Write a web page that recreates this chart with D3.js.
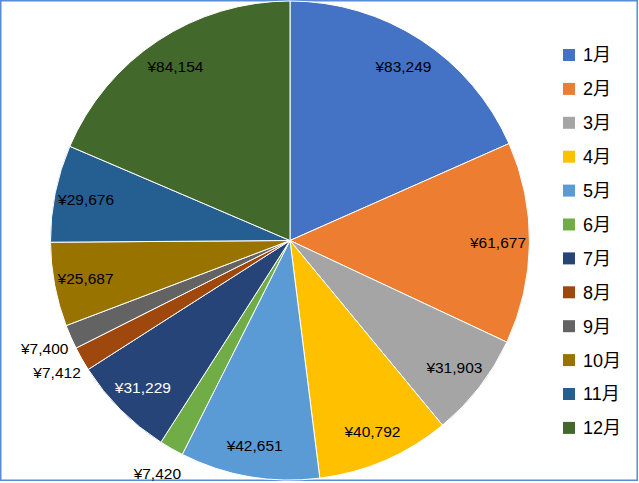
<!DOCTYPE html>
<html>
<head>
<meta charset="utf-8">
<script src="https://cdn.jsdelivr.net/npm/d3@7"></script>
<style>
  html, body { margin: 0; padding: 0; background: #fff; }
  svg { display: block; }
</style>
</head>
<body>
<script>
// data
const months = ["1月", "2月", "3月", "4月", "5月", "6月", "7月", "8月", "9月", "10月", "11月", "12月"];
const sales = [83249, 61677, 31903, 40792, 42651, 7420, 31229, 7412, 7400, 25687, 29676, 84154];
const sliceColors = ["#4472C4", "#ED7D31", "#A5A5A5", "#FFC000", "#5B9BD5", "#70AD47",
                     "#264478", "#9E480E", "#636363", "#997300", "#255E91", "#43682B"];

// general dimensions
const width = 639, height = 483,
  cx = 290, cy = 240.5,
  radius = 239.5,
  labelRadius = 208,
  outsideRadius = 268;

const fontFam = "'Liberation Sans', Arial, 'Noto Sans CJK JP', sans-serif";
const yen = d3.format(",");

const table = months.map((m, i) => ({month: m, value: sales[i], idx: i}));
const total = d3.sum(sales);

const svg = d3.select("body").append("svg")
  .attr("width", width)
  .attr("height", height);

// chart area border
svg.append("rect")
  .attr("x", 0.75).attr("y", 0.75)
  .attr("width", 636.5).attr("height", 479.5)
  .attr("fill", "white")
  .attr("stroke", "#5b8ad6")
  .attr("stroke-width", 1.5);

const g = svg.append("g").attr("transform", `translate(${cx},${cy})`);

const pie = d3.pie().sort(null).value(d => d.value);
const arc = d3.arc().innerRadius(0).outerRadius(radius);
const labelArc = d3.arc().innerRadius(labelRadius).outerRadius(labelRadius);
const outArc = d3.arc().innerRadius(outsideRadius).outerRadius(outsideRadius);

const arcs = pie(table);

g.selectAll("path.slice")
  .data(arcs)
  .join("path")
  .attr("class", "slice")
  .attr("d", arc)
  .attr("fill", d => sliceColors[d.data.idx])
  .attr("stroke", "white")
  .attr("stroke-width", 1);

// data labels: small slices go outside
const isSmall = d => d.data.value / total < 0.03;

g.selectAll("text.lbl")
  .data(arcs)
  .join("text")
  .attr("class", "lbl")
  .attr("transform", d => `translate(${(isSmall(d) ? outArc : labelArc).centroid(d)})`)
  .attr("text-anchor", "middle")
  .attr("dy", "0.35em")
  .style("font-family", fontFam)
  .style("font-size", "15.5px")
  .attr("fill", d => d.data.idx === 6 ? "white" : "black")
  .text(d => "¥" + yen(d.data.value));

// legend
const legend = svg.append("g").attr("transform", "translate(563,55)");
const rowGap = 33.9;

const items = legend.selectAll("g")
  .data(table)
  .join("g")
  .attr("transform", (d, i) => `translate(0,${i * rowGap})`);

items.append("rect")
  .attr("x", 0).attr("y", -6)
  .attr("width", 12).attr("height", 12)
  .attr("fill", d => sliceColors[d.idx]);

items.append("text")
  .attr("x", 20)
  .attr("dy", "0.36em")
  .style("font-family", fontFam)
  .style("font-size", "18px")
  .attr("fill", "black")
  .text(d => d.month);
</script>
</body>
</html>
